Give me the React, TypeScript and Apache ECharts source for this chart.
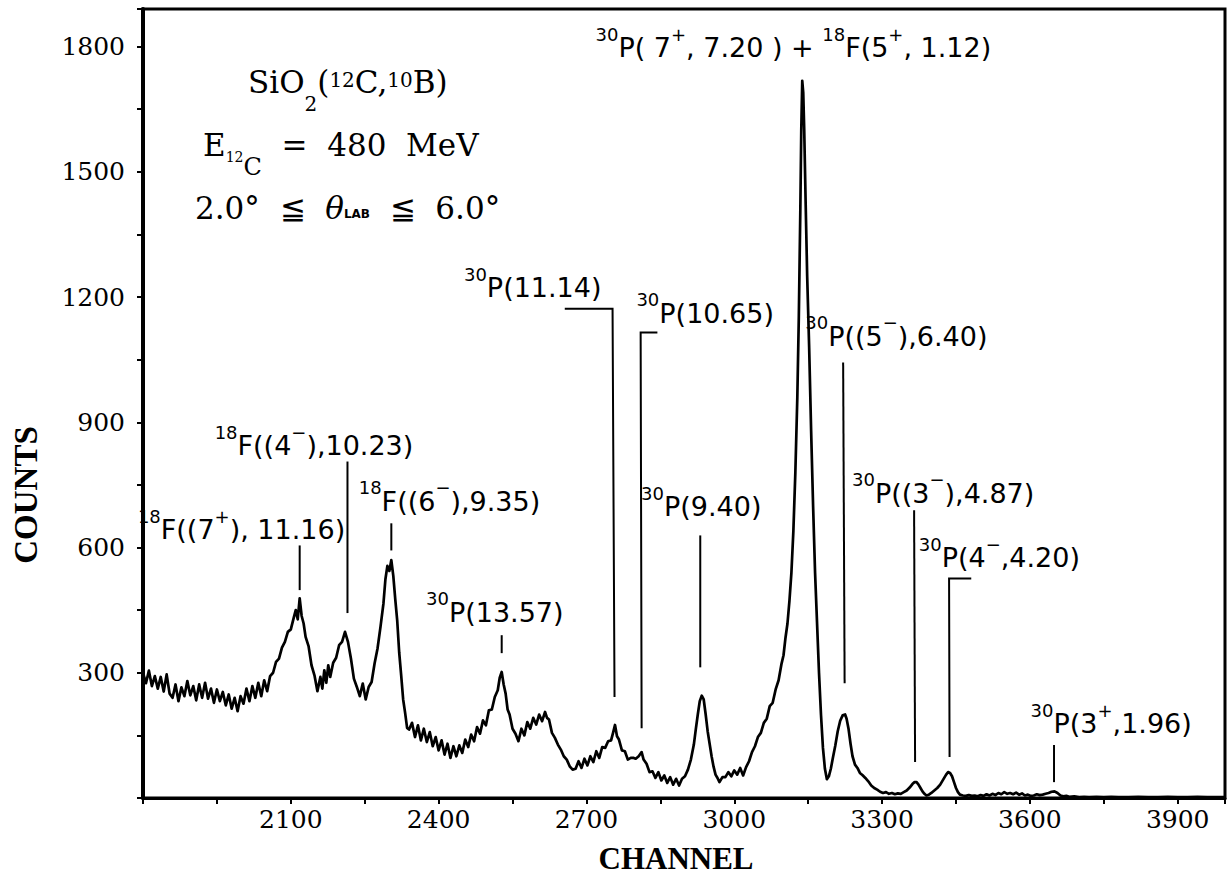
import React, { useEffect, useRef } from 'react';
import * as echarts from 'echarts';

// ---- spectrum (channel, counts) ----
const CHANNEL = [
  1800, 1806, 1812, 1818, 1824, 1830, 1836, 1842, 1848, 1854, 1860, 1866, 1872, 1878, 1884, 1890, 1896, 1902, 1908, 1914,
  1920, 1926, 1932, 1938, 1944, 1950, 1956, 1962, 1968, 1974, 1980, 1986, 1992, 1998, 2004, 2010, 2016, 2022, 2028, 2034,
  2040, 2046, 2052, 2058, 2064, 2070, 2076, 2082, 2088, 2094, 2100, 2106, 2110, 2114, 2118, 2122, 2126, 2130, 2136, 2142,
  2148, 2154, 2160, 2164, 2168, 2172, 2176, 2180, 2186, 2192, 2198, 2204, 2210, 2216, 2222, 2228, 2234, 2240, 2246, 2252,
  2258, 2264, 2270, 2276, 2282, 2288, 2292, 2296, 2300, 2304, 2308, 2312, 2316, 2320, 2324, 2328, 2332, 2336, 2340, 2346,
  2352, 2358, 2364, 2370, 2376, 2382, 2388, 2394, 2400, 2406, 2412, 2418, 2424, 2430, 2436, 2442, 2448, 2454, 2460, 2466,
  2472, 2478, 2484, 2490, 2496, 2502, 2508, 2514, 2520, 2524, 2528, 2532, 2536, 2540, 2544, 2550, 2556, 2562, 2568, 2574,
  2580, 2586, 2592, 2598, 2604, 2610, 2616, 2620, 2624, 2630, 2636, 2642, 2648, 2654, 2660, 2666, 2672, 2678, 2684, 2690,
  2696, 2702, 2708, 2714, 2720, 2726, 2732, 2738, 2744, 2750, 2754, 2758, 2762, 2766, 2772, 2778, 2784, 2790, 2796, 2800,
  2806, 2812, 2816, 2822, 2828, 2834, 2840, 2846, 2852, 2858, 2864, 2870, 2876, 2882, 2888, 2894, 2900, 2906, 2912, 2918,
  2922, 2926, 2930, 2934, 2938, 2942, 2946, 2950, 2954, 2958, 2962, 2966, 2970, 2976, 2982, 2988, 2994, 3000, 3006, 3012,
  3018, 3024, 3030, 3036, 3042, 3048, 3054, 3060, 3066, 3072, 3078, 3084, 3090, 3096, 3100, 3104, 3108, 3112, 3116, 3120,
  3124, 3128, 3131, 3134, 3136, 3138, 3140, 3142, 3145, 3148, 3152, 3156, 3160, 3164, 3168, 3172, 3176, 3180, 3184, 3188,
  3192, 3196, 3200, 3205, 3210, 3215, 3220, 3225, 3228, 3232, 3236, 3240, 3245, 3250, 3255, 3260, 3266, 3272, 3278, 3284,
  3290, 3296, 3302, 3308, 3314, 3320, 3326, 3332, 3338, 3344, 3350, 3356, 3362, 3366, 3370, 3374, 3378, 3382, 3386, 3390,
  3395, 3400, 3406, 3412, 3418, 3424, 3430, 3434, 3438, 3442, 3446, 3450, 3454, 3458, 3464, 3470, 3476, 3482, 3488, 3494,
  3500, 3506, 3512, 3518, 3524, 3530, 3536, 3542, 3548, 3554, 3560, 3566, 3572, 3578, 3584, 3590, 3596, 3602, 3608, 3614,
  3620, 3626, 3632, 3638, 3644, 3650, 3656, 3662, 3668, 3674, 3680, 3690, 3700, 3710, 3720, 3735, 3750, 3765, 3780, 3800,
  3820, 3840, 3860, 3880, 3900, 3920, 3940, 3960, 3980, 3996,
];

const COUNTS = [
  300, 275, 305, 268, 292, 262, 290, 255, 296, 250, 240, 272, 232, 265, 244, 280, 246, 268, 234, 272,
  240, 276, 238, 262, 228, 260, 232, 254, 222, 248, 214, 240, 208, 244, 226, 262, 232, 268, 240, 276,
  244, 282, 256, 292, 300, 326, 334, 360, 374, 398, 404, 432, 450, 428, 478, 436, 418, 386, 364, 318,
  294, 256, 290, 262, 306, 276, 318, 290, 324, 336, 366, 374, 398, 374, 334, 286, 266, 244, 274, 236,
  266, 278, 322, 358, 410, 466, 524, 556, 544, 570, 532, 476, 424, 348, 294, 236, 204, 168, 164, 180,
  146, 174, 138, 166, 134, 158, 124, 146, 114, 138, 104, 130, 96, 124, 100, 126, 108, 140, 122, 152,
  136, 170, 154, 186, 174, 210, 212, 242, 258, 288, 302, 272, 250, 212, 200, 166, 154, 136, 166, 150,
  182, 166, 192, 176, 200, 184, 206, 192, 188, 156, 144, 128, 116, 100, 92, 76, 68, 70, 88, 72,
  94, 78, 100, 86, 112, 96, 122, 120, 136, 138, 156, 175, 148, 140, 114, 112, 92, 96, 96, 94,
  100, 110, 92, 82, 62, 64, 48, 62, 42, 54, 36, 50, 32, 46, 30, 46, 52, 68, 92, 128,
  165, 200, 232, 245, 236, 200, 160, 130, 100, 75, 56, 48, 38, 50, 50, 62, 52, 66, 56, 72,
  54, 74, 88, 110, 124, 146, 156, 180, 190, 220, 228, 260, 282, 322, 342, 384, 418, 472, 540, 640,
  780, 960, 1150, 1400, 1600, 1718, 1690, 1600, 1420, 1250, 1080, 880, 700, 540, 420, 300, 200, 120, 70, 45,
  52, 70, 95, 125, 160, 185, 198, 200, 190, 165, 130, 100, 80, 72, 60, 55, 48, 40, 30, 24,
  20, 15, 12, 14, 10, 12, 9, 11, 10, 14, 18, 25, 34, 38, 38, 32, 24, 16, 10, 6,
  8, 12, 18, 24, 32, 44, 56, 62, 60, 52, 38, 24, 14, 8, 6, 5, 7, 5, 6, 4,
  7, 5, 9, 6, 10, 7, 12, 9, 14, 10, 12, 9, 13, 8, 11, 6, 8, 5, 6, 9,
  7, 8, 10, 12, 15, 16, 12, 6, 4, 5, 3, 4, 2, 3, 2, 3, 2, 3, 2, 2,
  3, 2, 2, 3, 2, 2, 3, 2, 2, 2,
];

// ---- axes ----
const X_MIN = 1800;
const X_MAX = 3996;
const Y_MIN = 0;
const Y_MAX = 1890;
const TICK_STEP = 150;
const LABEL_STEP = 300;

// ---- peak annotations: [channel, counts at text baseline] ----
const PEAK_LABEL_TEXT = [
  '{s|18}F((7{s|+}), 11.16)',
  '{s|18}F((4{s|−}),10.23)',
  '{s|18}F((6{s|−}),9.35)',
  '{s|30}P(13.57)',
  '{s|30}P(11.14)',
  '{s|30}P(10.65)',
  '{s|30}P(9.40)',
  '{s|30}P( 7{s|+}, 7.20 ) + {s|18}F(5{s|+}, 1.12)',
  '{s|30}P((5{s|−}),6.40)',
  '{s|30}P((3{s|−}),4.87)',
  '{s|30}P(4{s|−},4.20)',
  '{s|30}P(3{s|+},1.96)',
];
const PEAK_LABEL_POS = [
  [2000, 620],
  [2147, 821],
  [2422, 689],
  [2514, 423],
  [2591, 1200],
  [2941, 1139],
  [2933, 675],
  [3120, 1775],
  [3329, 1084],
  [3424, 708],
  [3538, 553],
  [3765, 156],
];

// ---- leader lines: list of [channel, counts] points ----
const LEADERS = [
  [[2118, 605], [2118, 498]],
  [[2215, 806], [2215, 443]],
  [[2304, 658], [2304, 593]],
  [[2528, 390], [2528, 347]],
  [[2656, 1172], [2753, 1172], [2757, 242]],
  [[2844, 1115], [2810, 1115], [2812, 167]],
  [[2931, 629], [2931, 313]],
  [[3221, 1043], [3224, 275]],
  [[3365, 689], [3367, 86]],
  [[3481, 526], [3436, 526], [3437, 98]],
  [[3649, 127], [3649, 38]],
];

const SERIF = 'DejaVu Serif';
const SANS = 'DejaVu Sans';

// rich token whose text baseline sits at `baseline` (px) given line top `top`
function tok(top: number, baseline: number, fs: number, extra: Record<string, unknown> = {}) {
  const pad = Math.round(baseline - 0.346 * fs - fs / 2 - top);
  return {
    fontSize: fs,
    fontFamily: SERIF,
    fill: '#000',
    lineHeight: 80,
    verticalAlign: 'top',
    padding: [pad, 0, 0, 0],
    ...extra,
  };
}

export default function App() {
  const ref = useRef<HTMLDivElement>(null);

  useEffect(() => {
    if (!ref.current) return;
    const chart = echarts.init(ref.current, undefined, { renderer: 'svg' });
    const data = CHANNEL.map((c, i) => [c, COUNTS[i]]);

    const T1 = 50, T2 = 110, T3 = 170;

    chart.setOption({
      animation: false,
      backgroundColor: '#fff',
      grid: {
        left: 143,
        right: 1,
        top: 9,
        bottom: 79,
        show: true,
        borderColor: '#000',
        borderWidth: 3,
        backgroundColor: 'transparent',
      },
      xAxis: {
        type: 'value',
        min: X_MIN,
        max: X_MAX,
        interval: TICK_STEP,
        axisLine: { show: true, onZero: false, lineStyle: { color: '#000', width: 3 } },
        axisTick: { show: true, inside: false, length: 6, lineStyle: { color: '#000', width: 2 } },
        splitLine: { show: false },
        axisLabel: {
          color: '#000',
          fontFamily: SERIF,
          fontSize: 25,
          margin: 9,
          showMinLabel: true,
          showMaxLabel: true,
          formatter: (v: number) => (v > X_MIN && v % LABEL_STEP === 0 && v <= 3900 ? String(v) : ''),
        },
      },
      yAxis: {
        type: 'value',
        min: Y_MIN,
        max: Y_MAX,
        interval: TICK_STEP,
        axisLine: { show: true, onZero: false, lineStyle: { color: '#000', width: 4 } },
        axisTick: { show: true, inside: false, length: 6, lineStyle: { color: '#000', width: 2 } },
        splitLine: { show: false },
        axisLabel: {
          color: '#000',
          fontFamily: SERIF,
          fontSize: 25,
          margin: 18,
          formatter: (v: number) => (v > 0 && v % LABEL_STEP === 0 && v <= 1800 ? String(v) : ''),
        },
      },
      series: [
        {
          type: 'line',
          data,
          showSymbol: false,
          symbol: 'none',
          lineStyle: { color: '#000', width: 2.7, join: 'round' },
          z: 3,
        },
        {
          type: 'custom',
          coordinateSystem: 'cartesian2d',
          clip: false,
          silent: true,
          data: LEADERS.map((l) => l[0]),
          renderItem: (params: any, api: any) => {
            const pts = LEADERS[params.dataIndex].map((p) => api.coord(p));
            return {
              type: 'polyline',
              shape: { points: pts },
              style: { stroke: '#000', lineWidth: 2, fill: null },
            };
          },
          z: 4,
        },
        {
          type: 'custom',
          coordinateSystem: 'cartesian2d',
          clip: false,
          silent: true,
          data: PEAK_LABEL_POS,
          renderItem: (params: any, api: any) => {
            const p = api.coord([api.value(0), api.value(1)]);
            return {
              type: 'text',
              x: p[0],
              y: p[1] - 31.8,
              style: {
                text: PEAK_LABEL_TEXT[params.dataIndex],
                fill: '#000',
                fontFamily: SANS,
                fontSize: 27,
                lineHeight: 45,
                align: 'center',
                verticalAlign: 'top',
                rich: {
                  s: { fontSize: 18, fontFamily: SANS, fill: '#000', verticalAlign: 'top' },
                },
              },
            };
          },
          z: 5,
        },
      ],
      graphic: [
        {
          type: 'text',
          x: 248,
          y: T1,
          style: {
            text: '{m|SiO}{sub|2}{m|(}{sup|12}{m|C,}{sup|10}{m|B)}',
            verticalAlign: 'top',
            rich: {
              m: tok(T1, 92, 31),
              sup: tok(T1, 86.6, 20),
              sub: tok(T1, 111, 20),
            },
          },
        },
        {
          type: 'text',
          x: 203,
          y: T2,
          style: {
            text: '{m|E}{t|12}{c|C}{m|  =  480  MeV}',
            verticalAlign: 'top',
            rich: {
              m: tok(T2, 155, 31),
              t: tok(T2, 162, 14),
              c: tok(T2, 175, 24),
            },
          },
        },
        {
          type: 'text',
          x: 195,
          y: T3,
          style: {
            text: '{m|2.0°  ≦  }{th|θ}{lab|LAB}{m|  ≦  6.0°}',
            verticalAlign: 'top',
            rich: {
              m: tok(T3, 218, 31),
              th: tok(T3, 218, 31, { fontStyle: 'italic' }),
              lab: tok(T3, 218, 12, { fontFamily: SANS, fontWeight: 'bold' }),
            },
          },
        },
        {
          type: 'text',
          x: 676,
          y: 858,
          style: {
            text: 'CHANNEL',
            fill: '#000',
            fontFamily: 'Liberation Serif',
            fontWeight: 'bold',
            fontSize: 31,
            align: 'center',
            verticalAlign: 'middle',
          },
        },
        {
          type: 'text',
          x: 26,
          y: 495,
          rotation: Math.PI / 2,
          style: {
            text: 'COUNTS',
            fill: '#000',
            fontFamily: 'Liberation Serif',
            fontWeight: 'bold',
            fontSize: 33,
            align: 'center',
            verticalAlign: 'middle',
          },
        },
      ],
    });

    return () => chart.dispose();
  }, []);

  return (
    <div
      ref={ref}
      style={{ position: 'fixed', left: 0, top: 0, width: 1228, height: 877, background: '#fff' }}
    />
  );
}
